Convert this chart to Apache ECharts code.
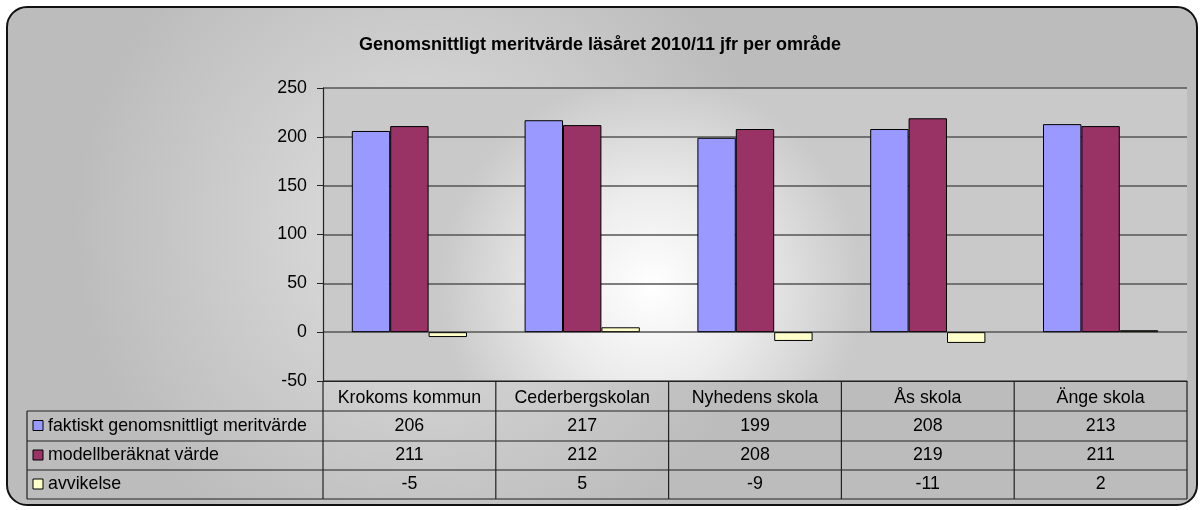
<!DOCTYPE html>
<html>
<head>
<meta charset="utf-8">
<script src="https://cdn.jsdelivr.net/npm/echarts@6/dist/echarts.min.js"></script>
<style>
	html,body{margin:0;padding:0;background:#fff;}
	#main{width:1200px;height:510px;}
</style>
</head>
<body>
<div id="main"></div>
<script>
;(function(){
	// 数据
	var categories = ['Krokoms kommun', 'Cederbergskolan', 'Nyhedens skola', 'Ås skola', 'Änge skola'];
	var seriesNames = ['faktiskt genomsnittligt meritvärde', 'modellberäknat värde', 'avvikelse'];
	var faktiskt = [206, 217, 199, 208, 213];
	var modell = [211, 212, 208, 219, 211];
	var avvikelse = [-5, 5, -9, -11, 2];
	var colors = ['#9999FF', '#993366', '#FFFFCC'];
	var yMin = -50, yMax = 250, yStep = 50;

	// 布局
	var gLeft = 323, gRight = 1187, gTop = 88, gBottom = 381;
	var tLeft = 27;
	var rows = [411, 441, 470, 499];
	var colW = (gRight - gLeft) / categories.length;
	var font = 'Arial, "Liberation Sans", sans-serif';
	var fs = 17.8;

	var allData = [faktiskt, modell, avvikelse];
	var myChart = echarts.init(document.getElementById('main'));

	var graphic = [];
	// 外框
	graphic.push({
		type: 'rect', z: -100, silent: true,
		shape: {x: 7, y: 7, width: 1190, height: 498, r: 20},
		style: {
			fill: {type: 'radial', x: 0.35, y: 0.45, r: 0.7, colorStops: [
				{offset: 0, color: '#e0e0e0'}, {offset: 1, color: '#bcbcbc'}]},
			stroke: '#111', lineWidth: 2
		}
	});
	// 绘图区背景
	graphic.push({
		type: 'rect', z: -90, silent: true,
		shape: {x: gLeft, y: gTop, width: gRight - gLeft, height: gBottom - gTop},
		style: {
			fill: {type: 'radial', x: 0.38, y: 0.68, r: 0.72, colorStops: [
				{offset: 0, color: '#ffffff'}, {offset: 0.45, color: '#ececec'}, {offset: 1, color: '#c9c9c9'}]}
		}
	});
	// 表格线
	var lineStyle = {stroke: '#222', lineWidth: 1.2};
	for(var r = 0; r < rows.length; r++){
		graphic.push({type: 'line', z: 100, silent: true,
			shape: {x1: tLeft, y1: rows[r], x2: gRight, y2: rows[r]}, style: lineStyle});
	}
	graphic.push({type: 'line', z: 100, silent: true,
		shape: {x1: tLeft, y1: rows[0], x2: tLeft, y2: rows[3]}, style: lineStyle});
	for(var c = 0; c <= categories.length; c++){
		var x = gLeft + c * colW;
		graphic.push({type: 'line', z: 100, silent: true,
			shape: {x1: x, y1: gBottom, x2: x, y2: rows[3]}, style: lineStyle});
	}
	// 图例列 + 数值
	for(var s = 0; s < seriesNames.length; s++){
		var cy = (rows[s] + rows[s + 1]) / 2;
		graphic.push({type: 'rect', z: 100, silent: true,
			shape: {x: 33, y: cy - 5.5, width: 10, height: 10},
			style: {fill: colors[s], stroke: '#000', lineWidth: 1}});
		graphic.push({type: 'text', z: 100, silent: true, x: 48, y: cy,
			style: {text: seriesNames[s], font: fs + 'px ' + font, fill: '#000', verticalAlign: 'middle'}});
		for(var i = 0; i < categories.length; i++){
			graphic.push({type: 'text', z: 100, silent: true, x: gLeft + (i + 0.5) * colW, y: cy,
				style: {text: String(allData[s][i]), font: fs + 'px ' + font, fill: '#000',
					align: 'center', verticalAlign: 'middle'}});
		}
	}

	var series = [];
	for(var k = 0; k < seriesNames.length; k++){
		series.push({
			name: seriesNames[k],
			type: 'bar',
			data: allData[k],
			barWidth: colW / 4.5,
			barGap: '0%',
			itemStyle: {color: colors[k], borderColor: '#000', borderWidth: 1},
			silent: true
		});
	}

	var option = {
		animation: false,
		backgroundColor: '#fff',
		title: {
			text: 'Genomsnittligt meritvärde läsåret 2010/11 jfr per område',
			left: 'center', top: 31,
			textStyle: {fontFamily: font, fontSize: 18, fontWeight: 'bold', color: '#000'}
		},
		grid: {left: gLeft, right: 1200 - gRight, top: gTop, bottom: 510 - gBottom},
		xAxis: {
			type: 'category',
			data: categories,
			axisLine: {onZero: false, lineStyle: {color: '#222', width: 1.2}},
			axisTick: {show: false},
			axisLabel: {interval: 0, margin: 8, fontFamily: font, fontSize: fs, color: '#000'}
		},
		yAxis: {
			type: 'value',
			min: yMin, max: yMax, interval: yStep,
			axisLine: {show: true, lineStyle: {color: '#222', width: 1.2}},
			axisTick: {show: true, length: 6, lineStyle: {color: '#222'}},
			axisLabel: {margin: 16, fontFamily: font, fontSize: fs, color: '#000'},
			splitLine: {lineStyle: {color: '#555', width: 1.5}}
		},
		graphic: graphic,
		series: series
	};
	myChart.setOption(option);
})();
</script>
</body>
</html>
